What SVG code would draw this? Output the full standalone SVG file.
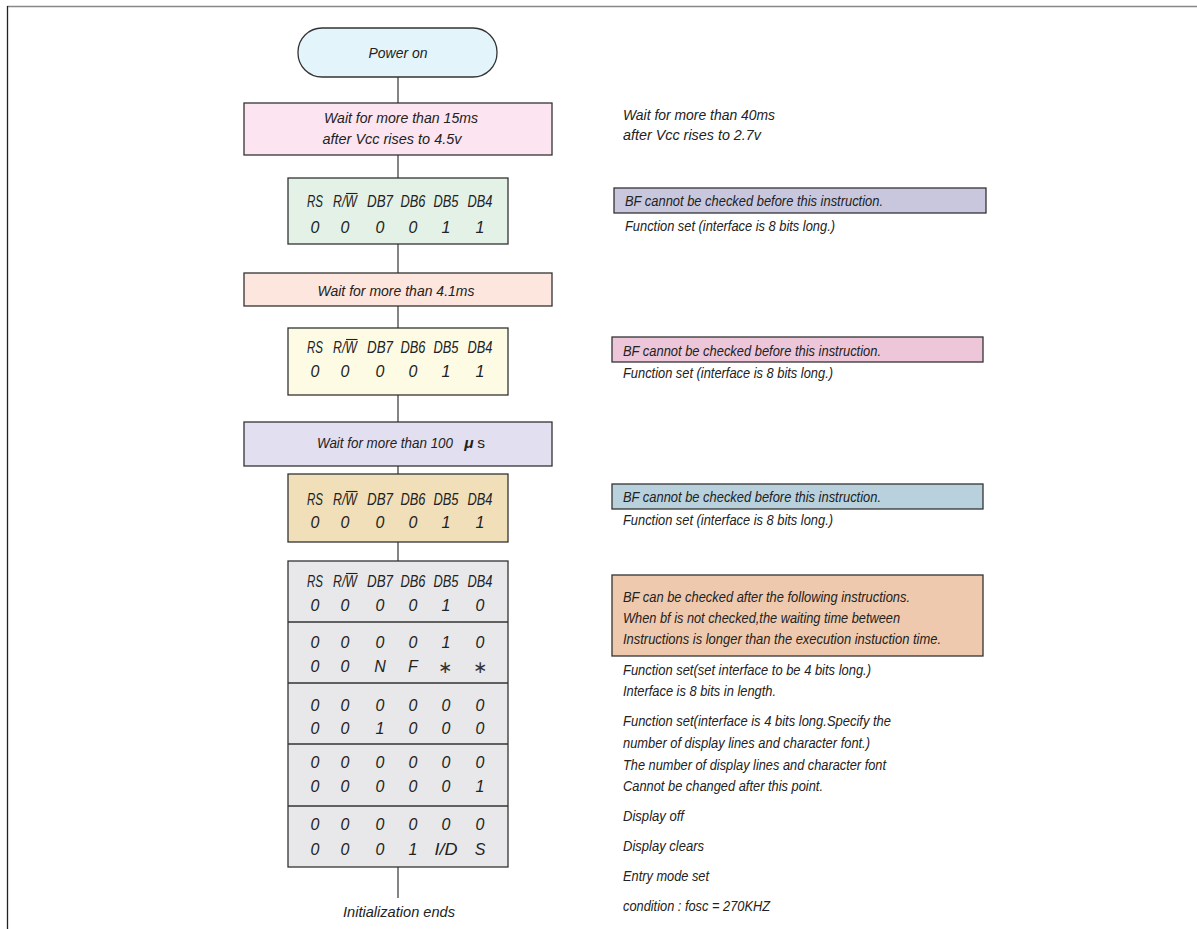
<svg xmlns="http://www.w3.org/2000/svg" width="1197" height="929" viewBox="0 0 1197 929">
<style>
text{font-family:"Liberation Sans",Arial,sans-serif;font-style:italic;fill:#222;}
.c{font-size:16px;text-anchor:middle;}
.h{font-size:16.5px;text-anchor:middle;}
.t{font-size:15.5px;text-anchor:middle;}
.r{font-size:14px;}
.st{font-family:"DejaVu Sans",sans-serif;font-style:normal;font-size:17px;text-anchor:middle;fill:#333;}
.box{stroke:#333;stroke-width:1.3;}
.conn{stroke:#333;stroke-width:1.2;fill:none;}
.ovl{stroke:#222;stroke-width:1.1;}
</style>
<rect width="1197" height="929" fill="#fff"/>
<line x1="7" y1="6.5" x2="1197" y2="6.5" stroke="#888" stroke-width="1.3"/>
<line x1="7.5" y1="6" x2="7.5" y2="929" stroke="#222" stroke-width="1.3"/>

<g id="connectors">
<line class="conn" x1="398" y1="77" x2="398" y2="103"/>
<line class="conn" x1="398" y1="155" x2="398" y2="178"/>
<line class="conn" x1="398" y1="244" x2="398" y2="273"/>
<line class="conn" x1="398" y1="306" x2="398" y2="328"/>
<line class="conn" x1="398" y1="395" x2="398" y2="422"/>
<line class="conn" x1="398" y1="466" x2="398" y2="474"/>
<line class="conn" x1="398" y1="542" x2="398" y2="561"/>
<line class="conn" x1="398" y1="867" x2="398" y2="898"/>
</g>

<g id="power-on">
<rect class="box" x="298" y="28" width="199" height="49" rx="24" fill="#e4f4fb"/>
<text class="t" x="398" y="58" textLength="59" lengthAdjust="spacingAndGlyphs">Power on</text>
</g>

<g id="wait15">
<rect class="box" x="244" y="103" width="308" height="52" fill="#fce5f0"/>
<text class="t" x="401" y="123" textLength="154" lengthAdjust="spacingAndGlyphs">Wait for more than 15ms</text>
<text class="t" x="392" y="144" textLength="139" lengthAdjust="spacingAndGlyphs">after Vcc rises to 4.5v</text>
</g>

<g id="fs1">
<rect class="box" x="288" y="178" width="220" height="66" fill="#e3f1e6"/>
<text class="h" x="315" y="207" textLength="16" lengthAdjust="spacingAndGlyphs">RS</text>
<text class="h" x="345" y="207" textLength="24" lengthAdjust="spacingAndGlyphs">R/W</text>
<line class="ovl" x1="346" y1="193.5" x2="357.5" y2="193.5"/>
<text class="h" x="380" y="207" textLength="26" lengthAdjust="spacingAndGlyphs">DB7</text>
<text class="h" x="413" y="207" textLength="25" lengthAdjust="spacingAndGlyphs">DB6</text>
<text class="h" x="446" y="207" textLength="25" lengthAdjust="spacingAndGlyphs">DB5</text>
<text class="h" x="480" y="207" textLength="25" lengthAdjust="spacingAndGlyphs">DB4</text>
<text class="c"><tspan x="315" y="233">0</tspan><tspan x="345" y="233">0</tspan><tspan x="380" y="233">0</tspan><tspan x="413" y="233">0</tspan><tspan x="446" y="233">1</tspan><tspan x="480" y="233">1</tspan></text>
</g>

<g id="wait41">
<rect class="box" x="244" y="273" width="308" height="33" fill="#fde6dd"/>
<text class="t" x="396" y="296" textLength="157" lengthAdjust="spacingAndGlyphs">Wait for more than 4.1ms</text>
</g>

<g id="fs2">
<rect class="box" x="288" y="328" width="220" height="67" fill="#fefbe5"/>
<text class="h" x="315" y="353" textLength="16" lengthAdjust="spacingAndGlyphs">RS</text>
<text class="h" x="345" y="353" textLength="24" lengthAdjust="spacingAndGlyphs">R/W</text>
<line class="ovl" x1="346" y1="339.5" x2="357.5" y2="339.5"/>
<text class="h" x="380" y="353" textLength="26" lengthAdjust="spacingAndGlyphs">DB7</text>
<text class="h" x="413" y="353" textLength="25" lengthAdjust="spacingAndGlyphs">DB6</text>
<text class="h" x="446" y="353" textLength="25" lengthAdjust="spacingAndGlyphs">DB5</text>
<text class="h" x="480" y="353" textLength="25" lengthAdjust="spacingAndGlyphs">DB4</text>
<text class="c"><tspan x="315" y="377">0</tspan><tspan x="345" y="377">0</tspan><tspan x="380" y="377">0</tspan><tspan x="413" y="377">0</tspan><tspan x="446" y="377">1</tspan><tspan x="480" y="377">1</tspan></text>
</g>

<g id="wait100">
<rect class="box" x="244" y="422" width="308" height="44" fill="#e1dff0"/>
<text class="t" x="385" y="448" textLength="136" lengthAdjust="spacingAndGlyphs">Wait for more than 100</text>
<text class="t" x="469" y="448" font-weight="bold">μ</text>
<text class="t" x="481" y="448" style="font-style:normal">s</text>
</g>

<g id="fs3">
<rect class="box" x="288" y="474" width="220" height="68" fill="#f0dfb9"/>
<text class="h" x="315" y="505" textLength="16" lengthAdjust="spacingAndGlyphs">RS</text>
<text class="h" x="345" y="505" textLength="24" lengthAdjust="spacingAndGlyphs">R/W</text>
<line class="ovl" x1="346" y1="491.5" x2="357.5" y2="491.5"/>
<text class="h" x="380" y="505" textLength="26" lengthAdjust="spacingAndGlyphs">DB7</text>
<text class="h" x="413" y="505" textLength="25" lengthAdjust="spacingAndGlyphs">DB6</text>
<text class="h" x="446" y="505" textLength="25" lengthAdjust="spacingAndGlyphs">DB5</text>
<text class="h" x="480" y="505" textLength="25" lengthAdjust="spacingAndGlyphs">DB4</text>
<text class="c"><tspan x="315" y="528">0</tspan><tspan x="345" y="528">0</tspan><tspan x="380" y="528">0</tspan><tspan x="413" y="528">0</tspan><tspan x="446" y="528">1</tspan><tspan x="480" y="528">1</tspan></text>
</g>

<g id="table">
<rect class="box" x="288" y="561" width="220" height="306" fill="#e8e8ea"/>
<line class="box" x1="288" y1="622" x2="508" y2="622"/>
<line class="box" x1="288" y1="683" x2="508" y2="683"/>
<line class="box" x1="288" y1="744" x2="508" y2="744"/>
<line class="box" x1="288" y1="806" x2="508" y2="806"/>
<text class="h" x="315" y="587" textLength="16" lengthAdjust="spacingAndGlyphs">RS</text>
<text class="h" x="345" y="587" textLength="24" lengthAdjust="spacingAndGlyphs">R/W</text>
<line class="ovl" x1="346" y1="573.5" x2="357.5" y2="573.5"/>
<text class="h" x="380" y="587" textLength="26" lengthAdjust="spacingAndGlyphs">DB7</text>
<text class="h" x="413" y="587" textLength="25" lengthAdjust="spacingAndGlyphs">DB6</text>
<text class="h" x="446" y="587" textLength="25" lengthAdjust="spacingAndGlyphs">DB5</text>
<text class="h" x="480" y="587" textLength="25" lengthAdjust="spacingAndGlyphs">DB4</text>
<text class="c"><tspan x="315" y="611">0</tspan><tspan x="345" y="611">0</tspan><tspan x="380" y="611">0</tspan><tspan x="413" y="611">0</tspan><tspan x="446" y="611">1</tspan><tspan x="480" y="611">0</tspan></text>
<text class="c"><tspan x="315" y="648">0</tspan><tspan x="345" y="648">0</tspan><tspan x="380" y="648">0</tspan><tspan x="413" y="648">0</tspan><tspan x="446" y="648">1</tspan><tspan x="480" y="648">0</tspan></text>
<text class="c"><tspan x="315" y="672">0</tspan><tspan x="345" y="672">0</tspan><tspan x="380" y="672">N</tspan><tspan x="413" y="672">F</tspan></text>
<text class="st"><tspan x="445" y="673">∗</tspan><tspan x="480" y="673">∗</tspan></text>
<text class="c"><tspan x="315" y="711">0</tspan><tspan x="345" y="711">0</tspan><tspan x="380" y="711">0</tspan><tspan x="413" y="711">0</tspan><tspan x="446" y="711">0</tspan><tspan x="480" y="711">0</tspan></text>
<text class="c"><tspan x="315" y="734">0</tspan><tspan x="345" y="734">0</tspan><tspan x="380" y="734">1</tspan><tspan x="413" y="734">0</tspan><tspan x="446" y="734">0</tspan><tspan x="480" y="734">0</tspan></text>
<text class="c"><tspan x="315" y="768">0</tspan><tspan x="345" y="768">0</tspan><tspan x="380" y="768">0</tspan><tspan x="413" y="768">0</tspan><tspan x="446" y="768">0</tspan><tspan x="480" y="768">0</tspan></text>
<text class="c"><tspan x="315" y="792">0</tspan><tspan x="345" y="792">0</tspan><tspan x="380" y="792">0</tspan><tspan x="413" y="792">0</tspan><tspan x="446" y="792">0</tspan><tspan x="480" y="792">1</tspan></text>
<text class="c"><tspan x="315" y="830">0</tspan><tspan x="345" y="830">0</tspan><tspan x="380" y="830">0</tspan><tspan x="413" y="830">0</tspan><tspan x="446" y="830">0</tspan><tspan x="480" y="830">0</tspan></text>
<text class="c"><tspan x="315" y="855">0</tspan><tspan x="345" y="855">0</tspan><tspan x="380" y="855">0</tspan><tspan x="413" y="855">1</tspan><tspan x="480" y="855">S</tspan></text>
<text class="c" x="446" y="855" textLength="23" lengthAdjust="spacingAndGlyphs">I/D</text>
</g>

<g id="init-ends">
<text class="t" x="399" y="917" textLength="112" lengthAdjust="spacingAndGlyphs">Initialization ends</text>
</g>

<g id="notes">
<text class="r" x="623" y="120" textLength="152" lengthAdjust="spacingAndGlyphs">Wait for more than 40ms</text>
<text class="r" x="623" y="140" textLength="138" lengthAdjust="spacingAndGlyphs">after Vcc rises to 2.7v</text>

<rect class="box" x="614" y="188" width="372" height="25" fill="#c9c7dd"/>
<text class="r" x="625" y="206" textLength="258" lengthAdjust="spacingAndGlyphs">BF cannot be checked before this instruction.</text>
<text class="r" x="625" y="231" textLength="210" lengthAdjust="spacingAndGlyphs">Function set (interface is 8 bits long.)</text>

<rect class="box" x="612" y="337" width="371" height="25" fill="#edc7d9"/>
<text class="r" x="623" y="356" textLength="258" lengthAdjust="spacingAndGlyphs">BF cannot be checked before this instruction.</text>
<text class="r" x="623" y="378" textLength="210" lengthAdjust="spacingAndGlyphs">Function set (interface is 8 bits long.)</text>

<rect class="box" x="612" y="484" width="371" height="25" fill="#b9d1dd"/>
<text class="r" x="623" y="502" textLength="258" lengthAdjust="spacingAndGlyphs">BF cannot be checked before this instruction.</text>
<text class="r" x="623" y="525" textLength="210" lengthAdjust="spacingAndGlyphs">Function set (interface is 8 bits long.)</text>

<rect class="box" x="612" y="575" width="371" height="81" fill="#efc9ad"/>
<text class="r" x="623" y="602" textLength="287" lengthAdjust="spacingAndGlyphs">BF can be checked after the following instructions.</text>
<text class="r" x="623" y="623" textLength="277" lengthAdjust="spacingAndGlyphs">When bf is not checked,the waiting time between</text>
<text class="r" x="623" y="644" textLength="318" lengthAdjust="spacingAndGlyphs">Instructions is longer than the execution instuction time.</text>

<text class="r" x="623" y="675" textLength="248" lengthAdjust="spacingAndGlyphs">Function set(set interface to be 4 bits long.)</text>
<text class="r" x="623" y="696" textLength="153" lengthAdjust="spacingAndGlyphs">Interface is 8 bits in length.</text>
<text class="r" x="623" y="726" textLength="268" lengthAdjust="spacingAndGlyphs">Function set(interface is 4 bits long.Specify the</text>
<text class="r" x="623" y="748" textLength="247" lengthAdjust="spacingAndGlyphs">number of display lines and character font.)</text>
<text class="r" x="623" y="770" textLength="263" lengthAdjust="spacingAndGlyphs">The number of display lines and character font</text>
<text class="r" x="623" y="791" textLength="200" lengthAdjust="spacingAndGlyphs">Cannot be changed after this point.</text>
<text class="r" x="623" y="821" textLength="61" lengthAdjust="spacingAndGlyphs">Display off</text>
<text class="r" x="623" y="851" textLength="81" lengthAdjust="spacingAndGlyphs">Display clears</text>
<text class="r" x="623" y="881" textLength="86" lengthAdjust="spacingAndGlyphs">Entry mode set</text>
<text class="r" x="623" y="911" textLength="147" lengthAdjust="spacingAndGlyphs">condition : fosc = 270KHZ</text>
</g>
</svg>
